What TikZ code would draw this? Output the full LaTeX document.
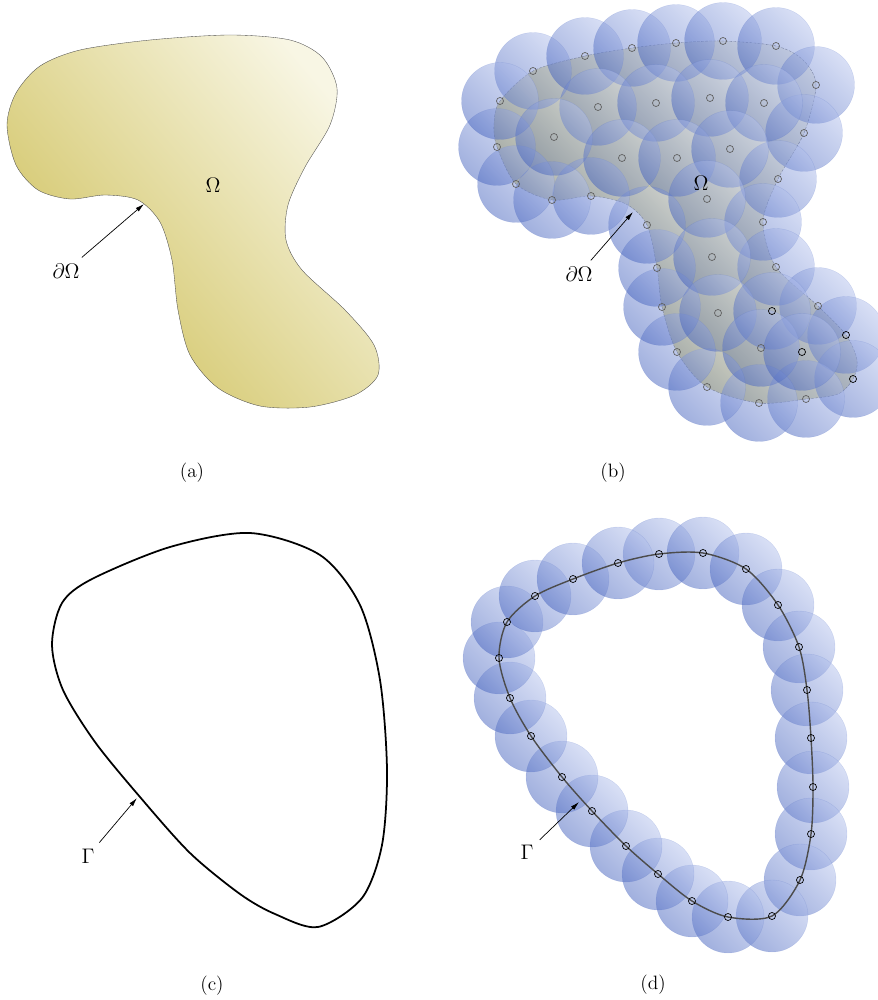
\documentclass[tikz,border=0pt]{standalone}
\usepackage{amsmath, amssymb}
\usepackage{tikz}
\usetikzlibrary{arrows.meta, positioning, calc}

\definecolor{regdark}{RGB}{208,194,95}
\definecolor{reglight}{RGB}{248,246,228}
\definecolor{balldark}{RGB}{68,98,190}
\definecolor{balllight}{RGB}{178,192,236}

\tikzset{
  region/.style={top color=reglight, bottom color=regdark, shading angle=-50},
  cover/.style={top color=balllight, bottom color=balldark, shading angle=-45,
    fill opacity=0.5, draw=balldark, draw opacity=0.2, very thin},
  knot/.style={draw=gray!75!black, thin},
  lbl/.style={font=\fontsize{12.5}{14}\selectfont},
  subcap/.style={font=\fontsize{11}{13}\selectfont},
  ptr/.style={-{Latex[length=5pt,width=2.6pt]}, thin},
}

\begin{document}
\begin{tikzpicture}[x=0.02cm, y=-0.02cm]
  \useasboundingbox (0,0) rectangle (878,1000);

  % (a) 領域
  \shadedraw[region, draw=black!70, very thin] plot[smooth cycle] coordinates {
    (7,125) (16,93) (40,66) (80,50) (150,40) (230,35) (290,40) (322,57)
    (337,88) (330,125) (305,167) (288,205) (286,240) (302,270) (345,310)
    (374,345) (378,375) (355,395) (310,407) (260,406) (218,388) (190,355)
    (178,310) (172,260) (160,222) (138,200) (105,195) (70,199) (38,190)
    (16,165)};
  \node[lbl] (Oma) at (213,185) {$\Omega$};
  \node[lbl] (dOma) at (66,271) {$\partial\Omega$};
  \coordinate (tipa) at (144,204);
  \draw[ptr] (dOma) -- (tipa);
  \node[subcap] (capa) at (192,473) {(a)};

  % (b) 領域と被覆
  \shadedraw[region, draw=black!60, very thin, dash pattern=on 1.5pt off 0.8pt]
    plot[smooth cycle] coordinates {
    (533,71) (585,56) (632,48) (676,43) (723,41) (776,46) (803,60) (816,85)
    (804,133) (778,179) (763,222) (776,267) (818,306) (846,335) (857,360)
    (853,379) (838,394) (806,399) (759,403) (707,387) (677,352) (662,307)
    (657,268) (647,225) (626,204) (591,196) (552,200) (516,184) (497,147)
    (494,124) (500,101)};
  \foreach \x/\y in {533/71, 585/56, 632/48, 676/43, 723/41, 776/46, 816/85,
      804/133, 778/179, 763/222, 776/267, 818/306, 846/335, 853/379, 806/399,
      759/403, 707/387, 677/352, 662/307, 657/268, 647/225, 591/196, 552/200,
      516/184, 497/147, 500/101, 598/107, 656/103, 710/98, 764/103, 554/137,
      622/158, 677/158, 730/149, 707/199, 712/257, 718/313, 772/311, 761/348,
      802/352}
    \shadedraw[cover] (\x,\y) circle[radius=0.77cm];
  \foreach \x/\y in {533/71, 585/56, 632/48, 676/43, 723/41, 776/46, 816/85,
      804/133, 778/179, 763/222, 776/267, 818/306, 806/399, 759/403, 707/387,
      677/352, 662/307, 657/268, 647/225, 591/196, 552/200, 516/184, 497/147,
      500/101, 598/107, 656/103, 710/98, 764/103, 554/137, 622/158, 677/158,
      730/149, 707/199, 712/257, 718/313, 761/348}
    \draw[knot] (\x,\y) circle[radius=2pt];
  \foreach \x/\y in {846/335, 853/379, 772/311, 802/352}
    \draw[black, thin] (\x,\y) circle[radius=2pt];
  \node[lbl] (Omb) at (701,183) {$\Omega$};
  \node[lbl] (dOmb) at (579,274) {$\partial\Omega$};
  \coordinate (tipb) at (633,212);
  \draw[ptr] (dOmb) -- (tipb);
  \node[subcap] (capb) at (613,473) {(b)};

  % (c) 境界
  \draw[line width=1pt] plot[smooth cycle] coordinates {
    (250,533) (320,555) (360,605) (380,680) (387,770) (382,845) (362,898)
    (318,927) (275,914) (240,894) (190,853) (140,797) (95,742) (63,690)
    (52,645) (62,603) (92,579) (170,547)};
  \node[lbl] (Gmc) at (88,856) {$\Gamma$};
  \coordinate (tipc) at (137,798);
  \draw[ptr] (Gmc) -- (tipc);
  \node[subcap] (capc) at (212,986) {(c)};

  % (d) 境界と被覆
  \foreach \x/\y in {659/554, 703/553, 746/569, 778/605, 799/647, 807/690,
      811/738, 813/787, 811/834, 800/880, 772/916, 728/917, 692/901, 658/874,
      626/846, 592/811, 562/777, 531/736, 510/698, 499/658, 507/622, 535/596,
      573/579, 618/563}
    \shadedraw[cover] (\x,\y) circle[radius=0.72cm];
  \draw[gray!60!black, line width=0.8pt] plot[smooth cycle] coordinates {
    (659,554) (703,553) (746,569) (778,605) (799,647) (807,690) (811,738)
    (813,787) (811,834) (800,880) (772,916) (728,917) (692,901) (658,874)
    (626,846) (592,811) (562,777) (531,736) (510,698) (499,658) (507,622)
    (535,596) (573,579) (618,563)};
  \foreach \x/\y in {659/554, 703/553, 746/569, 778/605, 799/647, 807/690,
      811/738, 813/787, 811/834, 800/880, 772/916, 728/917, 692/901, 658/874,
      626/846, 592/811, 562/777, 531/736, 510/698, 499/658, 507/622, 535/596,
      573/579, 618/563}
    \draw[black, thin] (\x,\y) circle[radius=2pt];
  \node[lbl] (Gmd) at (527,852) {$\Gamma$};
  \coordinate (tipd) at (579,802);
  \draw[ptr] (Gmd) -- (tipd);
  \node[subcap] (capd) at (653,985) {(d)};
\end{tikzpicture}
\end{document}
